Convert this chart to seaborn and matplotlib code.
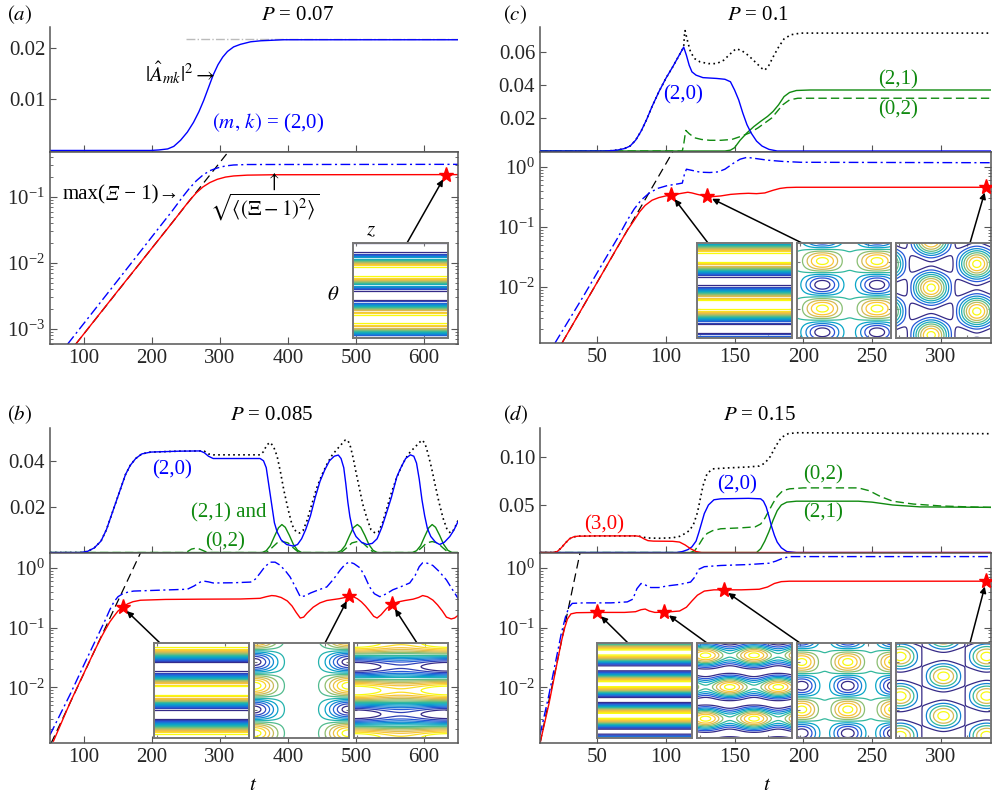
import numpy as np
import matplotlib
matplotlib.use("Agg")
import matplotlib.pyplot as plt
from matplotlib.colors import LinearSegmentedColormap
from matplotlib.ticker import FixedLocator, LogLocator, NullFormatter, LogFormatterSciNotation
from matplotlib.offsetbox import TextArea, HPacker, AnnotationBbox
import seaborn as sns

# ---------------- data: (t, value) pairs ----------------
# (a) P = 0.07
a_amp20 = [(50, 0), (198, 0), (210, 0.0001), (223, 0.0003), (232, 0.0008), (242, 0.002), (252, 0.0036),
           (261, 0.0055), (269, 0.0076), (276, 0.0098), (283, 0.0123), (290, 0.0148), (297, 0.0168),
           (304, 0.0183), (311, 0.0194), (320, 0.0203), (330, 0.0208), (345, 0.0213), (360, 0.0215),
           (393, 0.0217), (650, 0.0217)]
a_sat = [(250, 0.0218), (650, 0.0218)]
a_lin = [(88, 5.9e-4), (312, 0.48)]
a_rms = [(88, 5.9e-4), (150, 3.8e-3), (200, 0.0168), (230, 0.041), (245, 0.065), (255, 0.088), (265, 0.115),
         (275, 0.142), (285, 0.165), (296, 0.185), (308, 0.2), (320, 0.208), (340, 0.214), (380, 0.217),
         (650, 0.218)]
a_max = [(76, 5.9e-4), (150, 5.5e-3), (200, 0.025), (230, 0.062), (245, 0.1), (255, 0.135), (265, 0.175),
         (275, 0.215), (285, 0.25), (296, 0.275), (308, 0.295), (320, 0.305), (340, 0.31), (650, 0.312)]
a_stars = [(632, 0.218)]

# (b) P = 0.085
b_amp20 = [(50, 0), (95, 0), (105, 0.0005), (115, 0.002), (125, 0.005), (133, 0.01), (140, 0.016), (147, 0.022),
           (154, 0.028), (161, 0.034), (168, 0.038), (176, 0.041), (185, 0.043), (198, 0.0438), (240, 0.0442),
           (271, 0.0443), (277, 0.0435), (283, 0.042), (290, 0.041), (359, 0.041), (364, 0.040), (368, 0.037),
           (371, 0.031), (374, 0.025), (377, 0.019), (380, 0.013), (384, 0.009), (390, 0.0055), (398, 0.0035),
           (408, 0.0028), (414, 0.0035), (420, 0.006), (426, 0.01), (433, 0.016), (440, 0.024), (447, 0.031),
           (454, 0.036), (461, 0.040), (468, 0.042), (474, 0.0425), (478, 0.041), (482, 0.037), (485, 0.030),
           (488, 0.022), (491, 0.0157), (495, 0.010), (500, 0.007), (508, 0.0045), (516, 0.0035), (524, 0.004),
           (531, 0.006), (538, 0.011), (545, 0.0174), (552, 0.024), (560, 0.033), (566, 0.037), (573, 0.041),
           (580, 0.0426), (585, 0.042), (589, 0.039), (593, 0.032), (597, 0.023), (601, 0.016), (605, 0.0105),
           (610, 0.007), (617, 0.0045), (623, 0.0035), (630, 0.0045), (638, 0.007), (644, 0.0098), (650, 0.0135)]
b_sum_tail = [(277, 0.0442), (283, 0.043), (290, 0.0426), (359, 0.0426), (364, 0.044), (369, 0.047), (374, 0.048),
              (379, 0.046), (384, 0.042), (389, 0.035), (394, 0.027), (400, 0.019), (406, 0.012), (412, 0.009),
              (417, 0.0085), (422, 0.0095), (428, 0.014), (435, 0.021), (442, 0.028), (450, 0.034), (458, 0.039),
              (465, 0.0425), (472, 0.045), (478, 0.047), (484, 0.049), (488, 0.049), (492, 0.046), (496, 0.041),
              (500, 0.035), (505, 0.028), (510, 0.021), (516, 0.015), (522, 0.010), (528, 0.0085), (533, 0.009),
              (539, 0.013), (545, 0.019), (552, 0.026), (559, 0.032), (566, 0.037), (573, 0.041), (580, 0.044),
              (587, 0.046), (593, 0.048), (598, 0.049), (602, 0.047), (606, 0.043), (611, 0.037), (616, 0.030),
              (622, 0.022), (628, 0.015), (634, 0.010), (639, 0.0085), (644, 0.010), (650, 0.014)]
b_g21 = [(50, 0), (362, 0), (368, 0.0008), (374, 0.003), (380, 0.007), (386, 0.0108), (391, 0.0122), (396, 0.011),
         (402, 0.0075), (408, 0.0035), (414, 0.001), (420, 0), (472, 0), (478, 0.0008), (484, 0.003), (490, 0.007),
         (496, 0.0108), (502, 0.0122), (507, 0.011), (513, 0.0075), (519, 0.0035), (525, 0.001), (531, 0),
         (583, 0), (589, 0.0008), (595, 0.003), (601, 0.007), (607, 0.0108), (612, 0.0122), (617, 0.011),
         (623, 0.0075), (629, 0.0035), (635, 0.001), (641, 0), (650, 0)]
b_g02 = [(50, 0), (250, 0), (258, 0.0015), (266, 0.002), (274, 0.001), (282, 0), (368, 0), (376, 0.002),
         (384, 0.0042), (392, 0.0048), (400, 0.0042), (408, 0.002), (416, 0), (478, 0), (486, 0.002),
         (494, 0.0042), (502, 0.0048), (510, 0.0042), (518, 0.002), (526, 0), (588, 0), (596, 0.002),
         (604, 0.0042), (612, 0.0048), (620, 0.0042), (628, 0.002), (636, 0), (650, 0)]
b_lin = [(51.5, 1.15e-3), (183, 1.78)]
b_rms = [(55, 1.25e-3), (80, 5.7e-3), (100, 0.0174), (115, 0.040), (125, 0.068), (132, 0.095), (138, 0.125),
         (144, 0.155), (150, 0.19), (157, 0.22), (164, 0.25), (172, 0.272), (183, 0.288), (220, 0.297),
         (271, 0.30), (330, 0.302), (359, 0.31), (368, 0.33), (376, 0.345), (382, 0.34), (390, 0.32),
         (399, 0.28), (406, 0.23), (412, 0.18), (418, 0.145), (423, 0.15), (428, 0.175), (437, 0.22),
         (447, 0.26), (457, 0.285), (466, 0.295), (475, 0.305), (484, 0.32), (490, 0.335), (496, 0.33),
         (502, 0.305), (508, 0.27), (514, 0.23), (520, 0.19), (526, 0.155), (531, 0.145), (537, 0.165),
         (545, 0.21), (553, 0.245), (562, 0.27), (572, 0.285), (584, 0.3), (592, 0.32), (598, 0.345),
         (605, 0.33), (613, 0.29), (620, 0.24), (627, 0.19), (633, 0.15), (640, 0.14), (645, 0.145), (650, 0.16)]
b_max = [(50, 1.6e-3), (80, 7.8e-3), (100, 0.024), (115, 0.055), (125, 0.095), (132, 0.14), (138, 0.2),
         (144, 0.27), (150, 0.33), (157, 0.37), (165, 0.395), (173, 0.41), (200, 0.42), (252, 0.44), (262, 0.5),
         (271, 0.58), (277, 0.6), (283, 0.585), (290, 0.56), (320, 0.565), (345, 0.58), (352, 0.65),
         (359, 0.82), (366, 1.05), (374, 1.25), (381, 1.25), (388, 1.12), (396, 0.9), (403, 0.71), (410, 0.5),
         (418, 0.33), (425, 0.34), (433, 0.38), (445, 0.43), (457, 0.48), (467, 0.65), (477, 0.93), (484, 1.15),
         (490, 1.26), (497, 1.18), (506, 1.0), (513, 0.72), (520, 0.48), (527, 0.37), (535, 0.33), (545, 0.37),
         (554, 0.43), (565, 0.48), (579, 0.56), (587, 0.75), (593, 1.05), (598, 1.22), (605, 1.2), (613, 1.1),
         (622, 0.88), (633, 0.63), (641, 0.45), (650, 0.31)]
b_stars = [(157, 0.22), (490, 0.335), (553, 0.245)]

# (c) P = 0.1
c_amp20 = [(8.5, 0), (55, 0), (60, 0.0002), (65, 0.0006), (70, 0.0015), (74, 0.003), (78, 0.0065), (82, 0.012),
           (86, 0.019), (90, 0.027), (95, 0.036), (100, 0.044), (105, 0.051), (109, 0.057), (113, 0.063),
           (115, 0.058), (117, 0.052), (119, 0.048), (122, 0.046), (127, 0.0445), (137, 0.044), (143, 0.0435),
           (147, 0.042), (150, 0.037), (153, 0.031), (156, 0.023), (159, 0.016), (162, 0.011), (166, 0.006),
           (170, 0.003), (175, 0.001), (181, 0), (337, 0)]
c_sum_tail = [(113.5, 0.070), (114, 0.073), (116, 0.066), (118, 0.060), (121, 0.056), (125, 0.054), (131, 0.053),
              (137, 0.053), (142, 0.055), (147, 0.059), (151, 0.062), (155, 0.061), (160, 0.058), (165, 0.054),
              (170, 0.050), (172, 0.049), (175, 0.052), (178, 0.057), (182, 0.063), (186, 0.068), (191, 0.0705),
              (198, 0.0715), (337, 0.0715)]
c_g21 = [(8.5, 0), (143, 0), (147, 0.0005), (150, 0.002), (154, 0.0065), (159, 0.011), (164, 0.0148),
         (169, 0.018), (174, 0.021), (178, 0.024), (182, 0.028), (186, 0.033), (190, 0.0355), (195, 0.0367),
         (205, 0.037), (337, 0.037)]
c_g02 = [(8.5, 0), (112, 0), (113, 0.004), (114.5, 0.0125), (117, 0.0105), (121, 0.008), (126, 0.007),
         (132, 0.0065), (140, 0.0065), (148, 0.007), (155, 0.009), (161, 0.011), (167, 0.014), (172, 0.017),
         (177, 0.020), (181, 0.024), (185, 0.028), (190, 0.031), (196, 0.032), (337, 0.032)]
c_lin = [(24.5, 1.17e-3), (105, 1.78)]
c_rms = [(24.5, 1.17e-3), (40, 4.8e-3), (55, 0.0188), (65, 0.047), (72, 0.088), (77, 0.13), (81, 0.18),
         (85, 0.23), (90, 0.28), (95, 0.31), (100, 0.33), (105, 0.345), (110, 0.36), (113, 0.37), (116, 0.38),
         (119, 0.37), (123, 0.35), (128, 0.33), (133, 0.32), (140, 0.33), (147, 0.35), (154, 0.36),
         (160, 0.365), (166, 0.36), (172, 0.37), (178, 0.41), (183, 0.44), (188, 0.455), (195, 0.46),
         (337, 0.46)]
c_max = [(19.4, 1.17e-3), (40, 7e-3), (55, 0.027), (65, 0.066), (72, 0.13), (77, 0.2), (82, 0.28), (88, 0.37),
         (94, 0.44), (101, 0.49), (108, 0.52), (112, 0.54), (113.5, 0.75), (115, 0.92), (119, 0.88),
         (125, 0.82), (132, 0.81), (138, 0.83), (143, 0.92), (149, 1.15), (154, 1.35), (159, 1.45),
         (166, 1.38), (174, 1.3), (185, 1.24), (198, 1.2), (337, 1.18)]
c_stars = [(104, 0.345), (130, 0.325), (333, 0.46)]

# (d) P = 0.15
d_amp30 = [(8.5, 0), (18, 0), (21, 0.001), (24, 0.005), (27, 0.010), (30, 0.0145), (33, 0.0165), (36, 0.0172),
           (50, 0.0175), (78, 0.0175), (81, 0.0170), (84, 0.0145), (87, 0.0125), (91, 0.012), (105, 0.0118),
           (110, 0.011), (114, 0.008), (118, 0.004), (122, 0.001), (126, 0), (337, 0)]
d_sum_tail = [(84, 0.016), (87, 0.0153), (95, 0.015), (105, 0.0155), (110, 0.017), (114, 0.020), (117, 0.023),
              (120, 0.029), (123, 0.042), (125, 0.056), (127, 0.07), (130, 0.083), (134, 0.088), (145, 0.089),
              (160, 0.090), (168, 0.091), (172, 0.094), (176, 0.101), (180, 0.112), (184, 0.121), (189, 0.125),
              (195, 0.126), (337, 0.125)]
d_amp20 = [(8.5, 0), (108, 0), (112, 0.001), (116, 0.003), (119, 0.006), (122, 0.012), (124, 0.021),
           (126, 0.031), (128, 0.041), (131, 0.050), (135, 0.0555), (140, 0.0565), (160, 0.057), (169, 0.0565),
           (171, 0.054), (173, 0.048), (175, 0.038), (177, 0.027), (179, 0.018), (181, 0.011), (184, 0.005),
           (188, 0.001), (195, 0), (337, 0)]
d_g02 = [(8.5, 0), (118, 0), (121, 0.002), (124, 0.008), (127, 0.015), (130, 0.020), (134, 0.023), (140, 0.025),
         (155, 0.026), (165, 0.027), (169, 0.030), (172, 0.036), (175, 0.044), (178, 0.052), (181, 0.059),
         (185, 0.065), (190, 0.067), (200, 0.068), (240, 0.068), (248, 0.065), (256, 0.059), (265, 0.054),
         (280, 0.051), (300, 0.049), (320, 0.048), (337, 0.0475)]
d_g21 = [(8.5, 0), (166, 0), (169, 0.004), (172, 0.012), (175, 0.022), (178, 0.034), (181, 0.044), (184, 0.050),
         (188, 0.053), (195, 0.054), (240, 0.054), (250, 0.053), (265, 0.050), (285, 0.048), (337, 0.0475)]
d_lin = [(8.5, 1.15e-3), (37.6, 1.78)]
d_rms = [(8.5, 1.15e-3), (15, 5.3e-3), (20, 0.02), (24, 0.058), (26.5, 0.1), (28.5, 0.14), (31, 0.17),
         (35, 0.178), (50, 0.18), (70, 0.18), (78, 0.185), (82, 0.2), (85, 0.205), (88, 0.19), (92, 0.18),
         (100, 0.182), (110, 0.19), (115, 0.22), (119, 0.28), (123, 0.35), (128, 0.41), (135, 0.43),
         (142, 0.43), (155, 0.43), (168, 0.44), (174, 0.48), (179, 0.55), (184, 0.59), (190, 0.6), (337, 0.6)]
d_max = [(8.5, 1.6e-3), (15, 7.5e-3), (20, 0.028), (24, 0.08), (27, 0.15), (29.5, 0.22), (32, 0.255),
         (40, 0.26), (60, 0.26), (72, 0.27), (76, 0.3), (79, 0.45), (82, 0.55), (85, 0.52), (89, 0.47),
         (95, 0.47), (101, 0.5), (110, 0.53), (118, 0.58), (121, 0.7), (124, 0.95), (128, 1.05), (140, 1.1),
         (160, 1.14), (175, 1.2), (180, 1.3), (185, 1.45), (190, 1.55), (337, 1.55)]
d_stars = [(50, 0.18), (99, 0.182), (142, 0.43), (333, 0.6)]

# inset contour fields: modes (amplitude, cycles in theta, theta offset, cycles in z, z offset)
# plus contour levels as (first fraction, last fraction, count) of the field range
ins_a = ([(1.0, 2, 0.30, 0, 0)], (0.08, 0.92, 13))
ins_b = [([(1.0, 2, 0.0, 0, 0)], (0.08, 0.92, 15)),
         ([(0.375, 2, 0.45, 0, 0), (0.5, 2, 0.45, 1, 0.0), (0.125, 2, 0.45, 2, 0.0)],
          (0.05, 0.95, 12)),
         ([(1.0, 2, 0.0, 0, 0), (0.15, 2, 0.25, 1, 0.5)], (0.08, 0.92, 15))]
ins_c = [([(1.0, 2, 0.15, 0, 0)], (0.08, 0.92, 14)),
         ([(0.6, 2, 0.19, 0, 0), (0.5, 2, 0.19, 1.72, 0.27)], (0.08, 0.95, 9)),
         ([(1.0, 2, -0.03, 1.04, 0.37), (0.45, 0, 0, 2.08, 0.37)], (0.1, 0.95, 8))]
ins_d = [([(1.0, 3, 0.1, 0, 0)], (0.06, 0.94, 18)),
         ([(0.6, 1.5, 0.13, 1.96, 0.09), (1.0, 3, 0.13, 0, 0)], (0.1, 0.95, 9)),
         ([(0.6, 2, 0.2, 0, 0), (0.5, 2, 0.2, 2.04, 0.05)], (0.08, 0.95, 9)),
         ([(1.0, 2.4, 0.35, 1.1, 0.5), (0.4, 0, 0, 2.2, 0.5)], (0.15, 0.9, 5))]

# ---------------- style ----------------
sns.set_style("ticks")
plt.rcParams["font.family"] = ["Liberation Serif", "DejaVu Serif"]
plt.rcParams["mathtext.fontset"] = "stix"
plt.rcParams["axes.edgecolor"] = "#555555"
plt.rcParams["axes.linewidth"] = 1.1
FS = 15

BLUE, RED, GREEN = "#0000ff", "#ff0000", "#108a10"
parula = LinearSegmentedColormap.from_list(
    "parula", ["#352a87", "#2a52d8", "#1482d4", "#09a6c8", "#33b89e", "#8abf72", "#d6ba55", "#fcc536", "#f9fb0e"])

W, H = 992, 798
fig = plt.figure(figsize=(W / 100, H / 100), dpi=100)


def box(x0, y0, x1, y1):
    return [x0 / W, 1 - y1 / H, (x1 - x0) / W, (y1 - y0) / H]


def fxy(x, y):
    return (x / W, 1 - y / H)


def line(ax, pts, color, ls="-", lw=1.0, z=2):
    t, v = zip(*pts)
    sns.lineplot(x=list(t), y=list(v), ax=ax, color=color, linestyle=ls, linewidth=lw,
                 zorder=z, estimator=None, sort=False)


def stars(ax, pts):
    t, v = zip(*pts)
    ax.plot(t, v, ls="none", marker="*", ms=11, color=RED, mec=RED, zorder=6, clip_on=False)


def panel(y0, x0, x1, xlim, xticks, top_ylim, top_ticks, top_labels, h_top, h_bot):
    at = fig.add_axes(box(x0, y0, x1, y0 + h_top))
    ab = fig.add_axes(box(x0, y0 + h_top, x1, y0 + h_top + h_bot))
    for s in ("top", "right"):
        at.spines[s].set_visible(False)
    at.set_xlim(xlim)
    ab.set_xlim(xlim)
    at.set_ylim(top_ylim)
    at.set_yticks(top_ticks)
    at.set_yticklabels(top_labels)
    at.set_xticks(xticks)
    at.tick_params(axis="x", direction="in", length=5, labelbottom=False, color="#555555")
    at.tick_params(axis="y", direction="in", length=4, labelsize=FS, color="#555555")
    return at, ab


def finish(at, ab, xticks, bot_ylim, bot_ticks):
    ab.set_yscale("log")
    ab.set_ylim(bot_ylim)
    ab.set_xticks(xticks)
    ab.yaxis.set_major_locator(FixedLocator(bot_ticks))
    ab.yaxis.set_major_formatter(LogFormatterSciNotation())
    ab.yaxis.set_minor_locator(LogLocator(subs=np.arange(2, 10)))
    ab.yaxis.set_minor_formatter(NullFormatter())
    ab.tick_params(which="both", direction="in", right=True, color="#555555", labelsize=FS)
    ab.tick_params(which="major", length=5)
    ab.tick_params(which="minor", length=2.5)
    for a in (at, ab):
        a.set_xlabel("")
        a.set_ylabel("")


def inset(rect, spec):
    modes, (lo, hi, n) = spec
    ax = fig.add_axes(box(*rect))
    g = np.linspace(0, 1, 200)
    X, Y = np.meshgrid(g, g)
    F = np.zeros_like(X)
    for amp, ny, y0, nx, x0 in modes:
        F += amp * np.cos(2 * np.pi * ny * (Y - y0)) * np.cos(2 * np.pi * nx * (X - x0))
    lv = F.min() + (F.max() - F.min()) * np.linspace(lo, hi, n)
    ax.contour(X, Y, F, levels=lv, cmap=parula, linewidths=0.9)
    ax.set_xlim(0, 1)
    ax.set_ylim(1, 0)
    ax.set_xticks([0.03, 0.75])
    ax.set_yticks([0.2, 0.7])
    ax.tick_params(direction="in", length=2.5, labelbottom=False, labelleft=False, color="#777777",
                   top=True, right=True)
    for s in ax.spines.values():
        s.set_color("#777777")
        s.set_linewidth(1.4)
    return ax


def arrow(ax, star, tail):
    ax.annotate("", xy=star, xycoords="data", xytext=fxy(*tail), textcoords="figure fraction",
                arrowprops=dict(arrowstyle="-|>", color="k", lw=1.1, mutation_scale=9,
                                shrinkA=0, shrinkB=4), zorder=7)


def ftext(x, y, s, color="k", ha="center", va="center", size=FS):
    fig.text(x / W, 1 - y / H, s, color=color, ha=ha, va=va, fontsize=size)


LEFT_X = [100, 200, 300, 400, 500, 600]
RIGHT_X = [50, 100, 150, 200, 250, 300]
LOG_HI = (1.17e-3, 1.78)
DEC = [1e-2, 1e-1, 1.0]
DASHDOT = (0, (7, 2.5, 1.5, 2.5))
DASH = (0, (7, 4))
DOT = (0, (1, 2))

# ---------------- (a) ----------------
at, ab = panel(27, 50, 458, (50, 650), LEFT_X, (-0.0003, 0.0242), [0.01, 0.02], ["0.01", "0.02"], 125, 192)
line(at, a_sat, "#bbbbbb", ls="-.", lw=1.0, z=1)
line(at, a_amp20, BLUE)
line(ab, a_lin, "k", ls=DASH, lw=0.9, z=1)
line(ab, a_max, BLUE, ls=DASHDOT)
line(ab, a_rms, RED)
finish(at, ab, LEFT_X, (5.9e-4, 0.48), [1e-3, 1e-2, 1e-1])
stars(ab, a_stars)
inset((353, 243, 448, 338), ins_a)
arrow(ab, a_stars[0], (407, 243))

ftext(7, 15, "$(a)$", ha="left")
ftext(297, 15, "$P$ = 0.07")
ftext(216, 73, r"$|\hat{A}_{mk}|^2\rightarrow$", ha="right")
ftext(268, 123, "$(m,\\, k)$ = (2,0)", color=BLUE)
tp = dict(fontsize=FS, color="k")
label_max = HPacker(children=[TextArea("max(", textprops=tp),
                              TextArea("\u039e", textprops=dict(tp, style="italic")),
                              TextArea(" \u2212 1)\u2192", textprops=tp)], pad=0, sep=0)
fig.add_artist(AnnotationBbox(label_max, fxy(63, 195), xycoords="figure fraction", box_alignment=(0, 0.5),
                              frameon=False, pad=0))
ftext(272, 182, r"$\uparrow$")
ftext(265, 207, r"$\sqrt{\langle(\Xi-1)^2\rangle}$")
ftext(371, 231, "$z$")
ftext(333, 295, r"$\theta$")

# ---------------- (b) ----------------
at, ab = panel(428, 50, 458, (50, 650), LEFT_X, (-0.0002, 0.0543), [0.02, 0.04], ["0.02", "0.04"], 125, 190)
b_sum = [p for p in b_amp20 if p[0] <= 271] + b_sum_tail
line(at, b_sum, "k", ls=DOT, lw=1.2, z=1)
line(at, b_g02, GREEN, ls=(0, (6, 3)))
line(at, b_g21, GREEN)
line(at, b_amp20, BLUE, z=3)
line(ab, b_lin, "k", ls=DASH, lw=0.9, z=1)
line(ab, b_max, BLUE, ls=DASHDOT)
line(ab, b_rms, RED)
finish(at, ab, LEFT_X, LOG_HI, DEC)
stars(ab, b_stars)
for rect, spec in zip([(154, 643, 249, 738), (254, 643, 349, 738), (354, 643, 448, 738)], ins_b):
    inset(rect, spec)
for st, tail in zip(b_stars, [(160, 643), (325, 643), (417, 643)]):
    arrow(ab, st, tail)

ftext(7, 415, "$(b)$", ha="left")
ftext(272, 415, "$P$ = 0.085")
ftext(172, 470, "(2,0)", color=BLUE)
ftext(229, 513, "(2,1) and", color=GREEN)
ftext(225, 542, "(0,2)", color=GREEN)
ftext(253, 786, "$t$")

# ---------------- (c) ----------------
RX = (8.5, 336.5)
at, ab = panel(27, 540, 991, RX, RIGHT_X, (-0.0006, 0.0752), [0.02, 0.04, 0.06], ["0.02", "0.04", "0.06"],
               125, 191)
c_sum = [p for p in c_amp20 if p[0] <= 113] + c_sum_tail
line(at, c_sum, "k", ls=DOT, lw=1.2, z=1)
line(at, c_g02, GREEN, ls=(0, (6, 3)))
line(at, c_g21, GREEN)
line(at, c_amp20, BLUE, z=3)
line(ab, c_lin, "k", ls=DASH, lw=0.9, z=1)
line(ab, c_max, BLUE, ls=DASHDOT)
line(ab, c_rms, RED)
finish(at, ab, RIGHT_X, LOG_HI, DEC)
stars(ab, c_stars)
for rect, spec in zip([(697, 243, 792, 338), (797, 243, 891, 338), (896, 243, 991, 338)], ins_c):
    inset(rect, spec)
for st, tail in zip(c_stars, [(708, 243), (802, 243), (970, 243)]):
    arrow(ab, st, tail)

ftext(503, 15, "$(c)$", ha="left")
ftext(758, 15, "$P$ = 0.1")
ftext(683, 95, "(2,0)", color=BLUE)
ftext(898, 80, "(2,1)", color=GREEN)
ftext(898, 110, "(0,2)", color=GREEN)

# ---------------- (d) ----------------
at, ab = panel(428, 540, 991, RX, RIGHT_X, (-0.0005, 0.131), [0.05, 0.10], ["0.05", "0.10"], 125, 190)
d_sum = [p for p in d_amp30 if p[0] <= 81] + d_sum_tail
line(at, d_sum, "k", ls=DOT, lw=1.2, z=1)
line(at, d_g02, GREEN, ls=(0, (6, 3)))
line(at, d_g21, GREEN)
line(at, d_amp20, BLUE, z=3)
line(at, d_amp30, RED, z=3)
line(ab, d_lin, "k", ls=DASH, lw=0.9, z=1)
line(ab, d_max, BLUE, ls=DASHDOT)
line(ab, d_rms, RED)
finish(at, ab, RIGHT_X, LOG_HI, DEC)
stars(ab, d_stars)
for rect, spec in zip([(597, 643, 692, 738), (697, 643, 792, 738), (797, 643, 891, 738),
                       (896, 643, 991, 738)], ins_d):
    inset(rect, spec)
for st, tail in zip(d_stars, [(628, 643), (707, 643), (800, 643), (970, 643)]):
    arrow(ab, st, tail)

ftext(503, 415, "$(d)$", ha="left")
ftext(759, 415, "$P$ = 0.15")
ftext(604, 525, "(3,0)", color=RED)
ftext(737, 485, "(2,0)", color=BLUE)
ftext(823, 475, "(0,2)", color=GREEN)
ftext(823, 513, "(2,1)", color=GREEN)
ftext(767, 786, "$t$")

fig.savefig("out.png", dpi=100)
